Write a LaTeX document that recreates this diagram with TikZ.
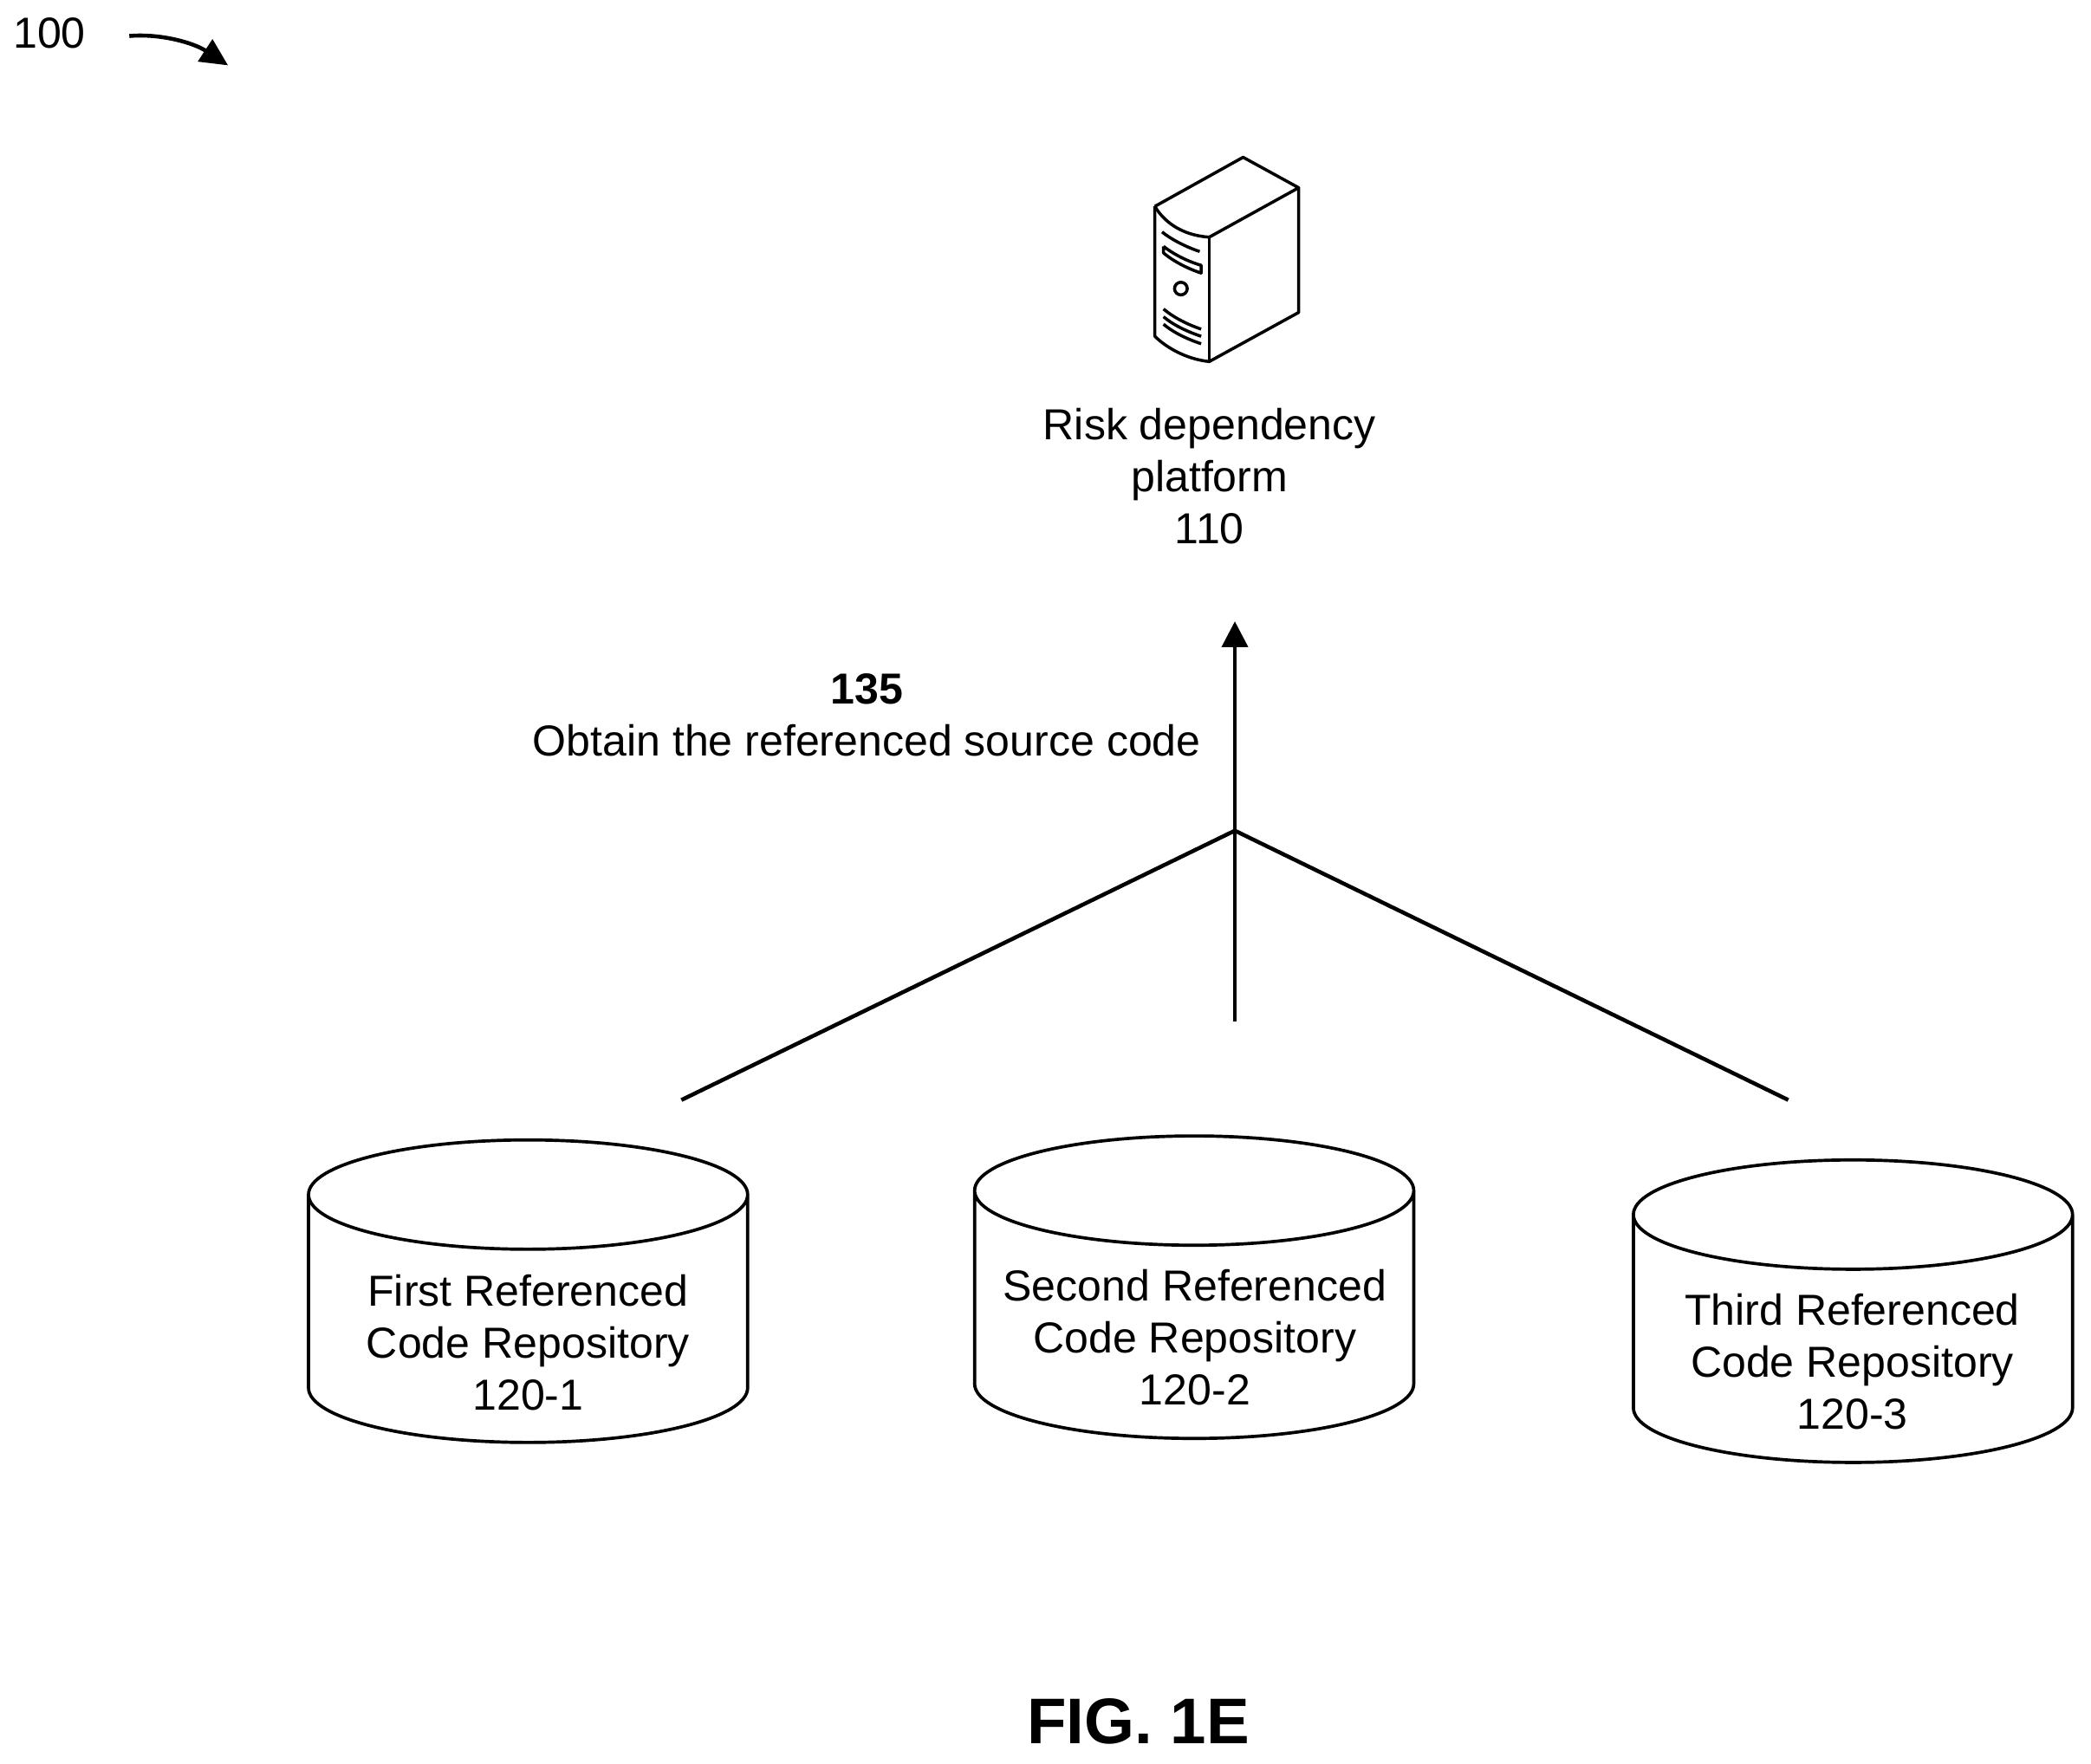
\documentclass[tikz,border=0pt]{standalone}
\usepackage{fontspec}
\setmainfont{Liberation Sans}
\usetikzlibrary{shapes.geometric,arrows.meta}
\tikzset{
  repo/.style={draw,line width=1.05pt,cylinder,shape border rotate=90,aspect=1,text width=1.262cm,
    minimum width=5.07cm,minimum height=3.493cm,inner sep=0pt,outer sep=0pt},
  lbl/.style={align=center,inner sep=0pt,font=\fontsize{14.25}{17.1}\selectfont},
  wire/.style={draw,line width=1.3pt},
  icon/.style={line width=1pt,line join=round}
}
\begin{document}
\begin{tikzpicture}[x=0.015389cm,y=-0.015389cm]
        \useasboundingbox (0,0) rectangle (1568,1322.4);
        \node[lbl] (fignum) at (37,25) {100};
        \coordinate (figa) at (97,27);
        \coordinate (figb) at (171,49);
        \path[wire,-{Triangle[length=9pt,width=8.5pt]}] (figa) .. controls (120,25) and (145,32) .. (figb);
        % server
        \begin{scope}[shift={(844.3,104.6)},xscale=0.217,yscale=0.2155,icon]
            \draw (100,233) -- (405,62) -- (597,168) -- (288,340);
            \draw (100,233) .. controls (140,300) and (210,335) .. (288,340);
            \draw (100,233) -- (100,685) .. controls (140,725) and (210,765) .. (288,773) -- (597,602) -- (597,168);
            \draw (288,340) -- (288,773);
            \draw (125,322) .. controls (160,350) and (210,375) .. (255,390);
            \draw (130,372) -- (130,395) .. controls (165,425) and (215,450) .. (260,465) -- (260,438) .. controls (215,425) and (165,400) .. (130,372);
            \draw (190,519) circle[radius=22];
            \draw (130,590) .. controls (165,620) and (215,645) .. (260,660);
            \draw (130,617) .. controls (165,647) and (215,670) .. (260,685);
            \draw (130,643) .. controls (165,673) and (215,696) .. (260,711);
        \end{scope}
        \node[lbl] (platform) at (907,357) {Risk dependency\\platform\\110};
        \node[lbl] (step135) at (650,536.5) {\textbf{135}\\Obtain the referenced source code};
        \node[repo] (repo1) at (396,989.5) {};
        \node[repo] (repo2) at (895.5,986.5) {};
        \node[repo] (repo3) at (1389.5,1004.5) {};
        \node[lbl] (text1) at (396,1007) {First Referenced\\Code Repository\\120-1};
        \node[lbl] (text2) at (896,1003) {Second Referenced\\Code Repository\\120-2};
        \node[lbl] (text3) at (1389,1021) {Third Referenced\\Code Repository\\120-3};
        \coordinate (hub) at (926,623);
        \coordinate (tip) at (926,466);
        \coordinate (enda) at (511,825);
        \coordinate (endb) at (926,766);
        \coordinate (endc) at (1341,825);
        \path[wire,-{Triangle[length=8.5pt,width=8.5pt]}] (endb) -- (tip);
        \path[wire,-] (enda) -- (hub) -- (endc);
        \node[inner sep=0pt,font=\fontsize{21.2}{24}\selectfont\bfseries] (figname) at (853.5,1291) {FIG. 1E};
    \end{tikzpicture}
\end{document}
